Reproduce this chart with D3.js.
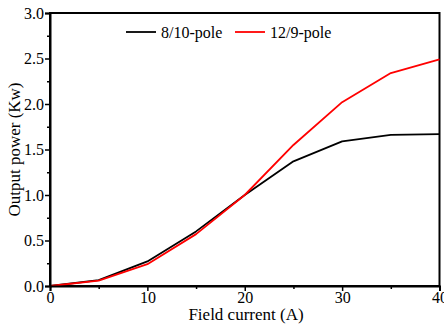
<!DOCTYPE html>
<html><head><meta charset="utf-8">
<script src="https://cdn.jsdelivr.net/npm/d3@7"></script>
<style>body{margin:0;background:#fff}svg{display:block}</style>
</head><body><svg id="c" width="444" height="325"></svg>
<script>
const current = [0, 5, 10, 15, 20, 25, 30, 35, 40];
const pole810 = [0, 0.065, 0.27, 0.6, 1.0, 1.37, 1.59, 1.66, 1.67];
const pole129 = [0, 0.06, 0.24, 0.57, 1.0, 1.55, 2.02, 2.34, 2.49];
const xTicks = [0, 10, 20, 30, 40];
const yTicks = [0, 0.5, 1.0, 1.5, 2.0, 2.5, 3.0];
const seriesNames = ["8/10-pole", "12/9-pole"];
const seriesColors = ["#000000", "#ff0000"];
const FONT = "'Times New Roman', 'Liberation Serif', 'DejaVu Serif', Times, serif";

const svg = d3.select("#c");
const L = 50, R = 439.5, T = 13, B = 286;
const x = d3.scaleLinear().domain([0, 40]).range([L, R]);
const y = d3.scaleLinear().domain([0, 3]).range([B, T]);

svg.append("rect").attr("x", L).attr("y", T).attr("width", R - L).attr("height", B - T)
  .attr("fill", "none").attr("stroke", "#000").attr("stroke-width", 2);

const series = [pole810, pole129];
const line = d3.line().x((d, i) => x(current[i])).y(d => y(d));
series.forEach((s, k) => {
  svg.append("path").datum(s).attr("d", line).attr("fill", "none")
    .attr("stroke", seriesColors[k]).attr("stroke-width", 1.8).attr("stroke-linejoin", "round");
});

svg.append("g").attr("transform", `translate(0,${B})`)
  .call(d3.axisBottom(x).tickValues(xTicks).tickFormat(d3.format("d")).tickSize(5).tickPadding(1));
svg.append("g").attr("transform", `translate(0,${B})`)
  .call(d3.axisBottom(x).tickValues([5, 15, 25, 35]).tickFormat("").tickSize(3))
  .call(g => g.select(".domain").remove());
svg.append("g").attr("transform", `translate(${L},0)`)
  .call(d3.axisLeft(y).tickValues(yTicks).tickFormat(d3.format(".1f")).tickSize(5).tickPadding(1));
svg.append("g").attr("transform", `translate(${L},0)`)
  .call(d3.axisLeft(y).tickValues([0.25, 0.75, 1.25, 1.75, 2.25, 2.75]).tickFormat("").tickSize(3))
  .call(g => g.select(".domain").remove());
svg.selectAll("g").attr("font-family", null);
svg.selectAll(".domain").attr("stroke-width", 2);
svg.selectAll(".tick line").attr("stroke-width", 1.5);
svg.selectAll(".tick text").attr("font-size", 16).attr("fill", "#000").style("font-family", FONT);

svg.append("text").attr("x", 246).attr("y", 320).attr("text-anchor", "middle")
  .style("font-family", FONT).attr("font-size", 17).text("Field current (A)");
svg.append("text").attr("transform", `translate(20,${(T + B) / 2}) rotate(-90)`)
  .style("font-family", FONT).attr("text-anchor", "middle").attr("font-size", 17).text("Output power (Kw)");

const lx = [126, 235];
seriesNames.forEach((n, k) => {
  svg.append("line").attr("x1", lx[k]).attr("x2", lx[k] + 30).attr("y1", 32).attr("y2", 32)
    .attr("stroke", seriesColors[k]).attr("stroke-width", 1.8);
  svg.append("text").attr("x", lx[k] + 35).attr("y", 37.5).style("font-family", FONT)
    .attr("font-size", 16).text(n);
});
</script></body></html>
